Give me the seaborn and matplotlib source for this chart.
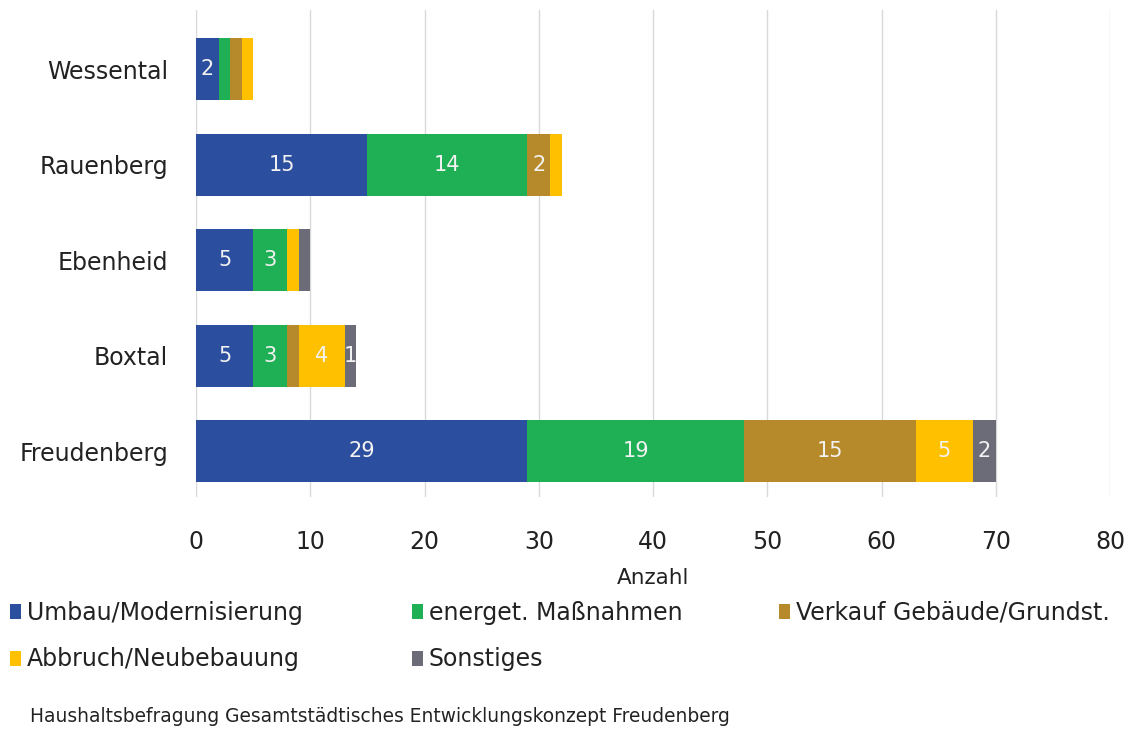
import numpy as np
import pandas as pd
import matplotlib
matplotlib.use("Agg")
import matplotlib.pyplot as plt
from matplotlib.patches import Patch
import seaborn as sns

# Survey results: planned building measures per district
districts = ["Wessental", "Rauenberg", "Ebenheid", "Boxtal", "Freudenberg"]
measures = ["Umbau/Modernisierung", "energet. Maßnahmen", "Verkauf Gebäude/Grundst.",
            "Abbruch/Neubebauung", "Sonstiges"]
umbau = [2, 15, 5, 5, 29]
energet = [1, 14, 3, 3, 19]
verkauf = [1, 2, 0, 1, 15]
abbruch = [1, 1, 1, 4, 5]
sonstiges = [0, 0, 1, 1, 2]
# which segment values are printed inside the bar
show_umbau = [True, True, True, True, True]
show_energet = [False, True, True, True, True]
show_verkauf = [False, True, False, False, True]
show_abbruch = [False, False, False, True, True]
show_sonstiges = [False, False, False, True, True]
x_ticks = [0, 10, 20, 30, 40, 50, 60, 70, 80]
colors = ["#2C4E9E", "#1FAF55", "#B68A2A", "#FFC000", "#6C6C78"]

series = [umbau, energet, verkauf, abbruch, sonstiges]
shows = [show_umbau, show_energet, show_verkauf, show_abbruch, show_sonstiges]

sns.set_theme(style="white")
plt.rcParams["font.family"] = ["DejaVu Sans"]

fig = plt.figure(figsize=(11.35, 7.31), dpi=100)
ax = fig.add_axes([196 / 1135, 1 - 497 / 731, (1110 - 196) / 1135, (497 - 10) / 731])

vals = np.array(series, dtype=float)
cum = np.cumsum(vals, axis=0)

# stacked bars: draw cumulative totals from the outermost segment inwards
for k in range(len(series) - 1, -1, -1):
    df = pd.DataFrame({"district": districts, "total": cum[k]})
    sns.barplot(data=df, x="total", y="district", order=districts, orient="h",
                color=colors[k], saturation=1, width=0.65, linewidth=0,
                ax=ax, zorder=3)

# value labels centred in each segment
for k in range(len(series)):
    starts = cum[k] - vals[k]
    for i in range(len(districts)):
        if shows[k][i] and vals[k][i] > 0:
            ax.text(starts[i] + vals[k][i] / 2, i, f"{int(vals[k][i])}",
                    ha="center", va="center", color="#F2F2F2", fontsize=15, zorder=5)

ax.set_xlim(0, 80)
ax.set_ylim(4.48, -0.62)
ax.set_xticks(x_ticks)
ax.set_xticklabels([str(t) for t in x_ticks], fontsize=17, color="#222222")
ax.tick_params(axis="x", length=0, pad=24)
ax.tick_params(axis="y", length=0, pad=20, labelsize=17, labelcolor="#222222")
ax.set_ylabel("")
ax.set_xlabel("Anzahl", fontsize=15.5, color="#222222", labelpad=10)
ax.xaxis.grid(True, color="#D9D9D9", linewidth=1, zorder=0)
ax.yaxis.grid(False)
for s in ax.spines.values():
    s.set_visible(False)

# legend laid out in three fixed-width columns
handles = [Patch(facecolor=c, edgecolor="none") for c in colors]
legend_cols = [[0, 3], [1, 4], [2]]
col_x = [10 / 1135, 412 / 1135, 779 / 1135]
for cols, x in zip(legend_cols, col_x):
    leg = fig.legend([handles[i] for i in cols], [measures[i] for i in cols],
                     loc="upper left", bbox_to_anchor=(x, 1 - 601 / 731),
                     frameon=False, fontsize=17, handlelength=0.45, handleheight=0.6,
                     handletextpad=0.25, labelspacing=0.95, borderaxespad=0,
                     borderpad=0)
    for t in leg.get_texts():
        t.set_color("#222222")

fig.text(30 / 1135, 1 - 717 / 731, "Haushaltsbefragung Gesamtstädtisches Entwicklungskonzept Freudenberg",
         fontsize=13.4, color="#222222", ha="left", va="center")

fig.savefig("out.png", dpi=100, facecolor="white")
